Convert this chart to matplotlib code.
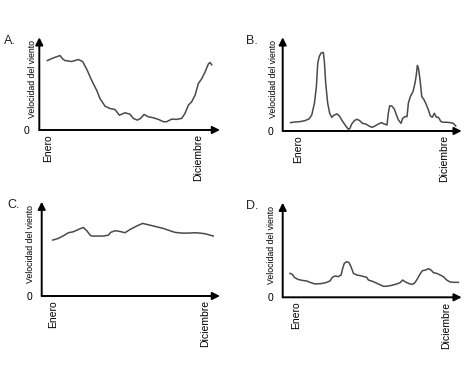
import matplotlib.pyplot as plt

plt.rcParams['font.family'] = ['Liberation Sans', 'DejaVu Sans']

W, H = 475, 378

# Wind speed curves (x = month, Enero = 1, Diciembre = 12)
months_a = [0.93, 1.37, 1.86, 2.05, 2.22, 2.71, 3.20, 3.52, 3.86, 4.18, 4.55, 4.79,
            5.16, 5.52, 5.89, 6.21, 6.62, 6.99, 7.23, 7.53, 7.77, 8.02, 8.33, 8.70,
            9.07, 9.44, 9.68, 10.05, 10.41, 10.78, 11.02, 11.27, 11.51, 11.76, 12.00,
            12.25, 12.49, 12.74, 12.86, 12.98]
speed_a = [7.72, 8.01, 8.27, 7.90, 7.72, 7.61, 7.83, 7.61, 6.62, 5.51, 4.41, 3.49,
           2.65, 2.39, 2.28, 1.65, 1.91, 1.76, 1.29, 1.10, 1.29, 1.73, 1.47, 1.36,
           1.18, 0.92, 0.92, 1.21, 1.18, 1.29, 1.84, 2.76, 3.13, 3.86, 5.15,
           5.70, 6.43, 7.35, 7.50, 7.24]

months_b = [0.42, 0.75, 1.13, 1.50, 1.80, 2.01, 2.21, 2.36, 2.46, 2.58, 2.71, 2.88,
            2.96, 3.06, 3.21, 3.36, 3.51, 3.71, 3.91, 4.09, 4.27, 4.52, 4.77, 4.89,
            5.02, 5.22, 5.42, 5.62, 5.82, 6.08, 6.33, 6.53, 6.78, 7.03, 7.28, 7.48,
            7.68, 7.78, 7.88, 8.04, 8.24, 8.39, 8.54, 8.74, 8.86, 9.04, 9.19, 9.29,
            9.44, 9.64, 9.79, 9.89, 9.97, 10.05, 10.17, 10.30, 10.45, 10.60, 10.80,
            10.95, 11.10, 11.25, 11.40, 11.55, 11.75, 11.93, 12.18, 12.43, 12.68, 12.86]
speed_b = [0.92, 0.99, 1.03, 1.14, 1.32, 1.76, 3.05, 4.89, 7.46, 8.20, 8.57, 8.64,
           7.65, 5.26, 3.05, 1.95, 1.51, 1.76, 1.88, 1.65, 1.21, 0.66, 0.18, 0.29,
           0.77, 1.14, 1.29, 1.14, 0.85, 0.77, 0.55, 0.40, 0.55, 0.77, 0.92, 0.77,
           0.66, 1.95, 2.76, 2.76, 2.39, 1.76, 1.21, 0.85, 1.40, 1.58, 1.58, 3.05,
           3.79, 4.34, 5.26, 6.18, 7.21, 6.91, 5.63, 3.79, 3.49, 3.05, 2.32,
           1.65, 1.51, 1.95, 1.51, 1.51, 1.03, 0.96, 0.96, 0.92, 0.85, 0.55]

months_c = [0.95, 1.36, 1.72, 2.09, 2.45, 2.81, 3.17, 3.42, 3.66, 3.78, 4.14, 4.62,
            4.99, 5.15, 5.47, 5.83, 6.19, 6.56, 7.04, 7.47, 7.88, 8.37, 8.97, 9.45,
            9.82, 10.30, 10.78, 11.27, 11.63, 11.99, 12.35, 12.59]
speed_c = [6.11, 6.29, 6.58, 6.91, 7.02, 7.27, 7.49, 7.13, 6.65, 6.55, 6.55, 6.55,
           6.65, 6.95, 7.13, 7.05, 6.91, 7.27, 7.64, 7.93, 7.78, 7.60, 7.38, 7.13,
           6.95, 6.87, 6.87, 6.91, 6.87, 6.80, 6.65, 6.55]

months_d = [0.56, 0.73, 0.88, 1.12, 1.42, 1.78, 2.10, 2.40, 2.84, 3.18, 3.50, 3.67,
            3.87, 4.11, 4.31, 4.41, 4.55, 4.73, 4.90, 5.04, 5.22, 5.46, 5.83, 6.20,
            6.32, 6.69, 7.05, 7.42, 7.67, 8.03, 8.40, 8.65, 8.84, 9.01, 9.26, 9.50,
            9.70, 9.87, 10.12, 10.29, 10.53, 10.73, 10.93, 11.10, 11.34, 11.59, 11.83,
            12.08, 12.32, 12.57, 12.94]
speed_d = [2.61, 2.50, 2.17, 1.96, 1.85, 1.78, 1.59, 1.45, 1.49, 1.59, 1.78, 2.17,
           2.32, 2.25, 2.43, 3.04, 3.70, 3.88, 3.77, 3.33, 2.61, 2.43, 2.32, 2.17,
           1.88, 1.70, 1.45, 1.20, 1.20, 1.30, 1.45, 1.59, 1.88, 1.70, 1.52, 1.41,
           1.52, 1.88, 2.54, 2.90, 2.97, 3.12, 2.97, 2.68, 2.61, 2.43, 2.25,
           1.88, 1.67, 1.63, 1.63]

letters = ['A.', 'B.', 'C.', 'D.']
tick_labels = ['Enero', 'Diciembre']
y_label = 'Velocidad del viento'

# layout in pixels: (left, top, right, bottom), x limits, letter position, ylabel offset
layout = [
    ((39.3, 37.3, 220, 130), (0.34, 13.59), (4, 35), 7),
    ((282.7, 37.3, 461.7, 131), (-0.18, 13.31), (246, 35), 9),
    ((41.7, 201.7, 220, 296), (0.15, 13.08), (7, 199), 11),
    ((282.7, 202.7, 461.7, 297.3), (0.02, 13.18), (246, 200), 11.5),
]
data = [(months_a, speed_a), (months_b, speed_b), (months_c, speed_c), (months_d, speed_d)]

fig = plt.figure(figsize=(W / 100, H / 100), dpi=100)

for letter, (x, y), ((l, t, r, b), xlim, (lx, ly), dy) in zip(letters, data, layout):
    ax = fig.add_axes([l / W, 1 - b / H, (r - l) / W, (b - t) / H])
    ax.plot(x, y, color='#4a4a4a', lw=1.1, clip_on=False)
    ax.set_xlim(xlim)
    ax.set_ylim(0, 10.3)
    [ax.spines[s].set_visible(False) for s in ax.spines]
    # axes drawn as arrows
    arrow = dict(arrowstyle='-|>', color='black', lw=1.4, mutation_scale=11,
                 shrinkA=0, shrinkB=0)
    ax.annotate('', xy=(1, 0), xytext=(0, 0), xycoords='axes fraction', arrowprops=arrow)
    ax.annotate('', xy=(0, 1), xytext=(0, 0), xycoords='axes fraction', arrowprops=arrow)
    ax.set_xticks([1, 12], tick_labels, rotation=90, fontsize=7.5)
    ax.set_yticks([0], ['0'], fontsize=7.5)
    ax.tick_params(axis='x', length=0, pad=3)
    ax.tick_params(axis='y', length=0, pad=7)
    ax.annotate(y_label, xy=(0, 1), xycoords='axes fraction', xytext=(-dy, -3),
                textcoords='offset pixels', rotation=90, ha='center', va='top',
                fontsize=6.3)
    fig.text(lx / W, 1 - ly / H, letter, fontsize=9, ha='left', va='top', color='#222222')

fig.savefig('out.png', dpi=100)
